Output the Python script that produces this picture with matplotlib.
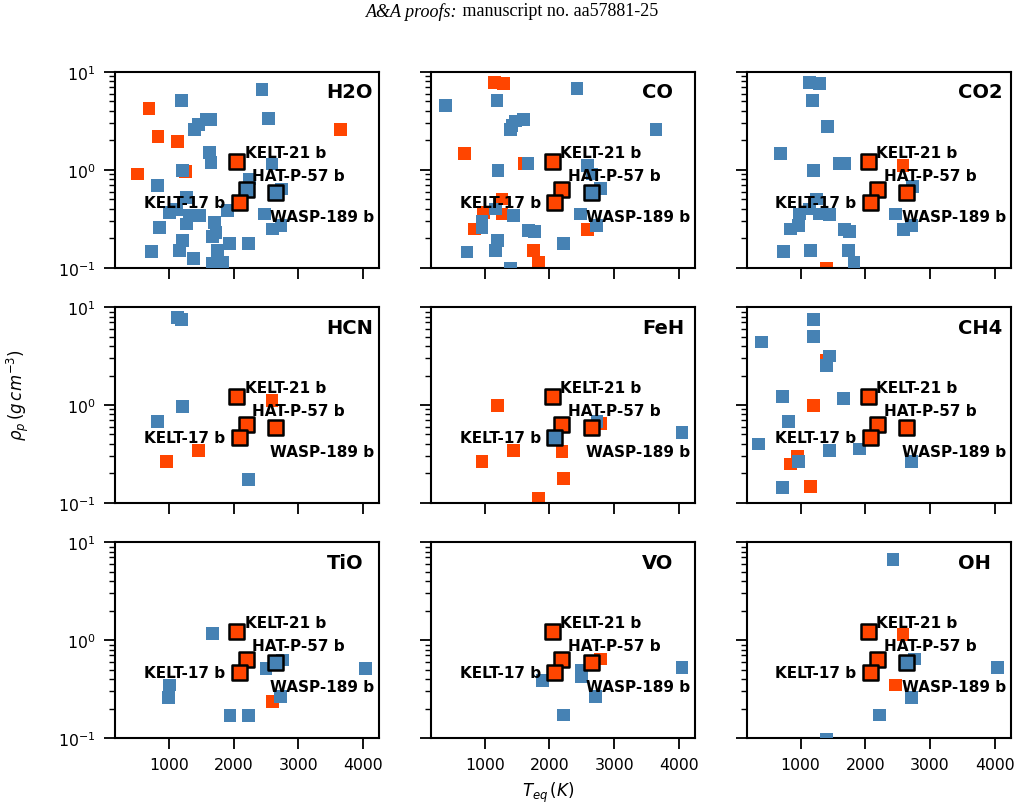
import matplotlib.pyplot as plt

# colores de los puntos
blue = '#4682b4'
orange = '#ff4500'

molecules = ['H2O', 'CO', 'CO2', 'HCN', 'FeH', 'CH4', 'TiO', 'VO', 'OH']

# planetas destacados
planets = ['KELT-21 b', 'HAT-P-57 b', 'KELT-17 b', 'WASP-189 b']
planet_teq = [2045, 2193, 2085, 2643]
planet_rho = [1.23, 0.635, 0.47, 0.59]

# color de cada planeta destacado en cada panel (b = azul, o = naranja)
h2o_hl = ['o', 'b', 'o', 'b']
co_hl = ['o', 'o', 'o', 'b']
co2_hl = ['o', 'o', 'o', 'o']
hcn_hl = ['o', 'o', 'o', 'o']
feh_hl = ['o', 'o', 'b', 'o']
ch4_hl = ['o', 'o', 'o', 'o']
tio_hl = ['o', 'o', 'o', 'b']
vo_hl = ['o', 'o', 'o', 'o']
oh_hl = ['o', 'o', 'o', 'b']

# H2O
h2o_blue_teq = [2438, 1200, 2541, 1395, 1462, 1575, 1652, 1627, 1652, 1216, 2592, 820, 2243, 2746,
                1267, 1909, 2474, 1010, 1113, 1318, 1473, 856, 1267, 1704, 1729, 1678, 2602, 2731,
                2228, 1935, 1205, 1164, 738, 1755, 1385, 1678, 1832]
h2o_blue_rho = [6.65, 5.07, 3.35, 2.57, 2.90, 3.30, 3.30, 1.51, 1.19, 0.98, 1.15, 0.69, 0.81, 0.64,
                0.525, 0.384, 0.355, 0.369, 0.398, 0.341, 0.341, 0.26, 0.28, 0.29, 0.23, 0.21, 0.25, 0.27,
                0.176, 0.176, 0.19, 0.15, 0.147, 0.15, 0.124, 0.112, 0.114]
h2o_orange_teq = [692, 831, 1139, 3645, 522, 1257]
h2o_orange_rho = [4.23, 2.19, 1.94, 2.61, 0.91, 0.97]

# CO
co_blue_teq = [2426, 393, 1190, 1422, 1474, 1602, 1396, 3645, 1206, 1669, 2590, 2657, 2786, 2477,
               1448, 1165, 959, 959, 1679, 1772, 2724, 2220, 1201, 1165, 727, 1396]
co_blue_rho = [6.76, 4.51, 5.07, 2.82, 3.16, 3.30, 2.57, 2.61, 0.98, 1.17, 1.12, 0.91, 0.65, 0.355,
               0.341, 0.40, 0.30, 0.26, 0.24, 0.235, 0.27, 0.176, 0.19, 0.15, 0.145, 0.098]
co_orange_teq = [1149, 1293, 691, 1618, 1268, 985, 1268, 846, 1757, 1834, 2590]
co_orange_rho = [7.78, 7.6, 1.47, 1.17, 0.505, 0.369, 0.355, 0.25, 0.15, 0.114, 0.245]

# CO2
co2_blue_teq = [1144, 1288, 1185, 1416, 692, 1606, 1673, 1195, 2726, 1247, 1144, 979, 1298, 1452,
                846, 964, 1673, 1760, 2469, 2592, 2710, 733, 1154, 1745, 1827]
co2_blue_rho = [7.78, 7.6, 5.07, 2.77, 1.47, 1.17, 1.17, 0.98, 0.68, 0.505, 0.40, 0.355, 0.355, 0.35,
                0.25, 0.27, 0.245, 0.235, 0.355, 0.245, 0.27, 0.146, 0.15, 0.15, 0.114]
co2_orange_teq = [2582, 1401]
co2_orange_rho = [1.12, 0.098]

# HCN
hcn_blue_teq = [1139, 1200, 1205, 820, 2228]
hcn_blue_rho = [7.78, 7.5, 0.97, 0.675, 0.173]
hcn_orange_teq = [2592, 1462, 959]
hcn_orange_rho = [1.12, 0.341, 0.264]

# FeH
feh_blue_teq = [2734, 4047]
feh_blue_rho = [0.676, 0.525]
feh_orange_teq = [1201, 2786, 1448, 959, 2194, 2220, 1834]
feh_orange_rho = [0.98, 0.65, 0.341, 0.264, 0.333, 0.176, 0.112]

# CH4
ch4_blue_teq = [1195, 1195, 399, 1442, 1401, 723, 1668, 820, 348, 1452, 1914, 964, 2710, 723]
ch4_blue_rho = [7.5, 4.99, 4.4, 3.16, 2.51, 1.21, 1.17, 0.676, 0.40, 0.341, 0.355, 0.264, 0.264, 0.145]
ch4_orange_teq = [1401, 1195, 954, 846, 1159]
ch4_orange_rho = [2.82, 0.98, 0.296, 0.25, 0.148]

# TiO
tio_blue_teq = [1678, 1010, 995, 2500, 2757, 2720, 4040, 1945, 2228]
tio_blue_rho = [1.16, 0.348, 0.26, 0.515, 0.627, 0.264, 0.515, 0.169, 0.169]
tio_orange_teq = [2602]
tio_orange_rho = [0.235]

# VO
vo_blue_teq = [1896, 2493, 2493, 2709, 4047, 2220]
vo_blue_rho = [0.385, 0.426, 0.487, 0.264, 0.527, 0.172]
vo_orange_teq = [2786]
vo_orange_rho = [0.64]

# OH
oh_blue_teq = [2429, 2762, 4046, 2710, 2222, 1401]
oh_blue_rho = [6.6, 0.64, 0.527, 0.26, 0.172, 0.096]
oh_orange_teq = [2582, 2464]
oh_orange_rho = [1.13, 0.348]

panels = [
    (h2o_blue_teq, h2o_blue_rho, h2o_orange_teq, h2o_orange_rho, h2o_hl),
    (co_blue_teq, co_blue_rho, co_orange_teq, co_orange_rho, co_hl),
    (co2_blue_teq, co2_blue_rho, co2_orange_teq, co2_orange_rho, co2_hl),
    (hcn_blue_teq, hcn_blue_rho, hcn_orange_teq, hcn_orange_rho, hcn_hl),
    (feh_blue_teq, feh_blue_rho, feh_orange_teq, feh_orange_rho, feh_hl),
    (ch4_blue_teq, ch4_blue_rho, ch4_orange_teq, ch4_orange_rho, ch4_hl),
    (tio_blue_teq, tio_blue_rho, tio_orange_teq, tio_orange_rho, tio_hl),
    (vo_blue_teq, vo_blue_rho, vo_orange_teq, vo_orange_rho, vo_hl),
    (oh_blue_teq, oh_blue_rho, oh_orange_teq, oh_orange_rho, oh_hl),
]

# desplazamiento de las etiquetas (puntos) y alineacion
label_offsets = [(5.8, 6.5), (4.3, 10), (-10.3, -0.5), (-3.8, -17.3)]
label_ha = ['left', 'left', 'right', 'left']

fig, axs = plt.subplots(3, 3, figsize=(10.22, 8.12), dpi=100, sharex=True, sharey=True)
fig.subplots_adjust(left=0.1125, right=0.9892, bottom=0.0899, top=0.9101, wspace=0.195, hspace=0.2)

for ax, mol, (bx, by, ox, oy, hl) in zip(axs.flat, molecules, panels):
    ax.scatter(ox, oy, s=85, marker='s', c=orange, edgecolors='none', zorder=2)
    ax.scatter(bx, by, s=85, marker='s', c=blue, edgecolors='none', zorder=3)
    cols = [blue if h == 'b' else orange for h in hl]
    ax.scatter(planet_teq, planet_rho, s=115, marker='s', c=cols, edgecolors='black',
               linewidths=1.8, zorder=4)
    for name, t, r, off, ha in zip(planets, planet_teq, planet_rho, label_offsets, label_ha):
        ax.annotate(name, (t, r), xytext=off, textcoords='offset points', ha=ha, va='center',
                    fontsize=11, fontweight='bold', zorder=5)
    ax.text(0.80, 0.87, mol, transform=ax.transAxes, ha='left', va='baseline',
            fontsize=14, fontweight='bold')

    ax.set_yscale('log')
    ax.set_ylim(0.1, 10)
    ax.set_xlim(168, 4250)
    ax.set_xticks([1000, 2000, 3000, 4000])
    for s in ax.spines.values():
        s.set_linewidth(1.5)
    ax.tick_params(which='major', length=8, width=1.3, pad=6, labelsize=11.3)
    ax.tick_params(which='minor', length=4.5, width=1.0)

fig.text(18 / 1022, 1 - 395 / 812, r'$\rho_p\,(g\,cm^{-3})$', rotation=90,
         ha='center', va='center', fontsize=12)
fig.text(548 / 1022, 1 - 793 / 812, r'$T_{eq}\,(K)$', ha='center', va='center', fontsize=12)

# cabecera de la pagina
fig.text(0.448, 1 - 12 / 812, 'A&A proofs:', ha='right', va='center',
         family='Liberation Serif', style='italic', fontsize=13)
fig.text(0.448, 1 - 12 / 812, ' manuscript no. aa57881-25', ha='left', va='center',
         family='Liberation Serif', fontsize=13)

fig.savefig('out.png', dpi=100)
